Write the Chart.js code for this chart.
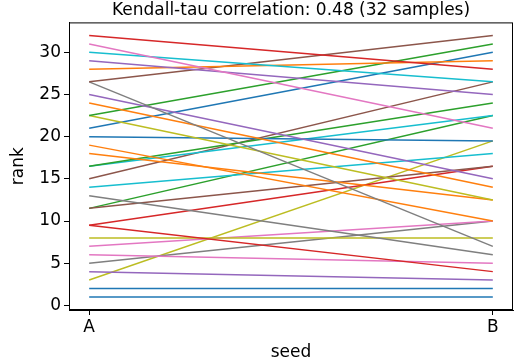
<!DOCTYPE html>
<html>
<head>
<meta charset="utf-8">
<script src="https://cdn.jsdelivr.net/npm/chart.js@4"></script>
<style>
  html, body { margin: 0; padding: 0; background: #fff; }
  #wrap { width: 516px; height: 363px; }
</style>
</head>
<body>
<div id="wrap"><canvas id="chart" width="516" height="363"></canvas></div>
<script>
// rank of each sample under seed A and seed B
const seeds = ['A', 'B'];
const rankA = [32, 31, 30, 29, 28, 26.5, 26.5, 25, 24, 22.5, 22.5, 21, 20, 19, 18, 16.5,
               16.5, 15, 14, 13, 11.5, 11.5, 9.5, 9.5, 8, 7, 6, 5, 4, 3, 2, 1];
const rankB = [28, 21, 26.5, 25, 29, 32, 7, 15, 14, 31, 12.5, 30, 19.5, 10, 12.5, 24,
               22.5, 26.5, 18, 6, 16.5, 22.5, 16.5, 4, 8, 10, 5, 10, 3, 19.5, 2, 1];
const lineColors = ['#d62728', '#e377c2', '#17becf', '#9467bd', '#ff7f0e', '#8c564b', '#7f7f7f', '#9467bd',
                    '#ff7f0e', '#2ca02c', '#bcbd22', '#1f77b4', '#1f77b4', '#ff7f0e', '#ff7f0e', '#2ca02c',
                    '#17becf', '#8c564b', '#17becf', '#7f7f7f', '#8c564b', '#2ca02c', '#d62728', '#d62728',
                    '#bcbd22', '#e377c2', '#e377c2', '#7f7f7f', '#9467bd', '#bcbd22', '#1f77b4', '#1f77b4'];
const yTicks = [0, 5, 10, 15, 20, 25, 30];

const fuente = 'DejaVu Sans';

let datasets = rankA.map((a, i) => ({
    data: [{x: 0, y: a}, {x: 1, y: rankB[i]}],
    borderColor: lineColors[i],
    borderWidth: 1.5,
    pointRadius: 0,
    fill: false,
    tension: 0
}));

// matplotlib style box around the axes
const marco = {
    id: 'marco',
    afterDraw(chart) {
        const a = chart.chartArea;
        const c = chart.ctx;
        c.save();
        c.strokeStyle = '#000';
        c.lineWidth = 1;
        c.strokeRect(a.left + 0.5, a.top + 0.5, a.right - a.left - 1, a.bottom - a.top - 1);
        c.restore();
    }
};

let ctx = document.getElementById('chart');

let miGrafica = new Chart(ctx, {
    type: 'line',
    data: { datasets: datasets },
    plugins: [marco],
    options: {
        responsive: false,
        animation: false,
        layout: { padding: { left: 0, right: 3, top: 0, bottom: 0 } },
        plugins: {
            legend: { display: false },
            tooltip: { enabled: false },
            title: {
                display: true,
                fullSize: false,
                text: 'Kendall-tau correlation: 0.48 (32 samples)',
                color: '#000',
                font: { family: fuente, size: 17, weight: 'normal' },
                padding: { top: 0, bottom: 2 }
            }
        },
        scales: {
            x: {
                type: 'linear',
                min: -0.05,
                max: 1.05,
                afterBuildTicks: s => { s.ticks = [{value: 0}, {value: 1}]; },
                afterFit: s => { s.height = 53; },
                ticks: {
                    color: '#000',
                    font: { family: fuente, size: 17 },
                    padding: 2,
                    maxRotation: 0,
                    callback: v => seeds[v]
                },
                grid: { drawOnChartArea: false, drawTicks: true, tickLength: 5, color: '#000' },
                border: { display: true, color: '#000' },
                title: {
                    display: true,
                    text: 'seed',
                    color: '#000',
                    font: { family: fuente, size: 17 },
                    padding: { top: 2, bottom: 0 }
                }
            },
            y: {
                type: 'linear',
                min: -0.55,
                max: 33.55,
                afterBuildTicks: s => { s.ticks = yTicks.map(v => ({value: v})); },
                afterFit: s => { s.width = 69; },
                ticks: {
                    color: '#000',
                    font: { family: fuente, size: 17 },
                    padding: 3
                },
                grid: { drawOnChartArea: false, drawTicks: true, tickLength: 5, color: '#000' },
                border: { display: true, color: '#000' },
                title: {
                    display: true,
                    text: 'rank',
                    color: '#000',
                    font: { family: fuente, size: 17 },
                    padding: { top: 8, bottom: 0 }
                }
            }
        }
    }
});
</script>
</body>
</html>
